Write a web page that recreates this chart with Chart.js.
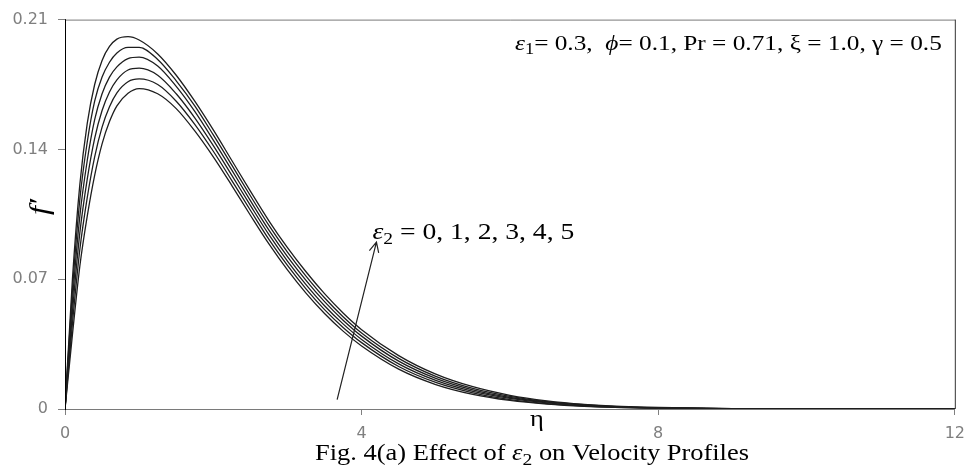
<!DOCTYPE html>
<html lang="en">
<head>
<meta charset="UTF-8" />
<title>Fig. 4(a) Effect of ε2 on Velocity Profiles</title>
<script src="https://cdn.jsdelivr.net/npm/chart.js@4.4.1/dist/chart.umd.min.js"></script>
<style>
  body{margin:0;background:#fff;}
  #wrap{width:974px;height:466px;}
</style>
</head>
<body>
<div id="wrap"><canvas id="chart" width="974" height="466"></canvas></div>
<script>
// similarity variable
const eta = [0, 0.1, 0.2, 0.3, 0.4, 0.5, 0.6, 0.7, 0.85, 1.0, 1.25, 1.5, 1.75, 2.0, 2.25, 2.5, 2.75,
             3.0, 3.25, 3.5, 3.75, 4.0, 4.5, 5.0, 5.5, 6.0, 6.5, 7.0, 7.5, 8.0, 9.0, 10.0, 11.0, 12.0];

// f' profiles, one per epsilon_2 value
const eps2 = [0, 1, 2, 3, 4, 5];
const fpE0 = [0, 0.040, 0.077, 0.104, 0.126, 0.143, 0.155, 0.1635, 0.1703, 0.1728, 0.1700, 0.1620, 0.1500,
              0.1360, 0.1205, 0.1045, 0.0890, 0.0750, 0.0625, 0.0515, 0.0420, 0.0340, 0.0215, 0.0132,
              0.0079, 0.0046, 0.0026, 0.0014, 0.0008, 0.0004, 0.0001, 0, 0, 0];
const fpE1 = [0, 0.046, 0.086, 0.114, 0.136, 0.152, 0.163, 0.1705, 0.1765, 0.1780, 0.1750, 0.1660, 0.1535,
              0.1390, 0.1232, 0.1072, 0.0915, 0.0774, 0.0648, 0.0536, 0.0440, 0.0358, 0.0229, 0.0143,
              0.0087, 0.0051, 0.0029, 0.0016, 0.0009, 0.0005, 0.0001, 0, 0, 0];
const fpE2 = [0, 0.052, 0.095, 0.124, 0.146, 0.161, 0.171, 0.1775, 0.1828, 0.1838, 0.1800, 0.1700, 0.1570,
              0.1420, 0.1260, 0.1098, 0.0940, 0.0798, 0.0671, 0.0557, 0.0459, 0.0375, 0.0243, 0.0154,
              0.0095, 0.0057, 0.0033, 0.0018, 0.0010, 0.0005, 0.0001, 0, 0, 0];
const fpE3 = [0, 0.058, 0.104, 0.134, 0.156, 0.170, 0.179, 0.1845, 0.1890, 0.1898, 0.1850, 0.1740, 0.1605,
              0.1450, 0.1288, 0.1124, 0.0965, 0.0822, 0.0694, 0.0579, 0.0479, 0.0393, 0.0258, 0.0165,
              0.0103, 0.0062, 0.0037, 0.0021, 0.0011, 0.0006, 0.0002, 0, 0, 0];
const fpE4 = [0, 0.064, 0.113, 0.144, 0.166, 0.179, 0.187, 0.1920, 0.1950, 0.1950, 0.1885, 0.1770, 0.1635,
              0.1478, 0.1315, 0.1150, 0.0990, 0.0846, 0.0717, 0.0600, 0.0498, 0.0410, 0.0273, 0.0176,
              0.0111, 0.0068, 0.0040, 0.0023, 0.0012, 0.0007, 0.0002, 0, 0, 0];
const fpE5 = [0, 0.070, 0.121, 0.154, 0.175, 0.188, 0.1955, 0.1995, 0.2008, 0.1990, 0.1915, 0.1800, 0.1660,
              0.1505, 0.1340, 0.1175, 0.1015, 0.0870, 0.0740, 0.0622, 0.0518, 0.0428, 0.0288, 0.0188,
              0.0120, 0.0074, 0.0044, 0.0025, 0.0014, 0.0008, 0.0002, 0.0001, 0, 0];
const profiles = [fpE0, fpE1, fpE2, fpE3, fpE4, fpE5];

const xTicks = [0, 4, 8, 12];
const yTicks = [0, 0.07, 0.14, 0.21];

const SERIF = '"Liberation Serif", "Times New Roman", serif';
const TICK_FONT = {family: '"DejaVu Sans", sans-serif', size: 16};
const STRETCH = 1.15;   // the figure's lettering is set a little wide

// draw a run of [text, style] pieces; style '' | 'i' | 'sub'
function richText(ctx, parts, x, y, size, align){
  const fontOf = s => (s === 'i' ? 'italic ' : '') + Math.round(s === 'sub' ? size * 0.72 : size) + 'px ' + SERIF;
  let w = 0;
  parts.forEach(p => { ctx.font = fontOf(p[1]); w += ctx.measureText(p[0]).width; });
  const start = align === 'right' ? x - w * STRETCH : align === 'center' ? x - w * STRETCH / 2 : x;
  ctx.save();
  ctx.translate(start, y);
  ctx.scale(STRETCH, 1);
  let cx = 0;
  parts.forEach(p => {
    ctx.font = fontOf(p[1]);
    ctx.fillText(p[0], cx, p[1] === 'sub' ? size * 0.2 : 0);
    cx += ctx.measureText(p[0]).width;
  });
  ctx.restore();
  return w * STRETCH;
}

const decorations = {
  id: 'decorations',
  afterDraw(chart){
    const {ctx, chartArea: a, scales: {x, y}} = chart;
    ctx.save();

    // frame: top and right edges, then the darker left axis
    ctx.lineWidth = 1;
    ctx.strokeStyle = '#7a7a7a';
    ctx.beginPath();
    ctx.moveTo(a.left, a.top + 0.5); ctx.lineTo(a.right + 0.5, a.top + 0.5);
    ctx.stroke();
    ctx.strokeStyle = '#333';
    ctx.beginPath();
    ctx.moveTo(a.right + 0.5, a.top); ctx.lineTo(a.right + 0.5, a.bottom);
    ctx.stroke();
    ctx.strokeStyle = '#000';
    ctx.beginPath();
    ctx.moveTo(a.left + 0.5, a.top); ctx.lineTo(a.left + 0.5, a.bottom);
    ctx.stroke();

    ctx.fillStyle = '#000';
    ctx.textBaseline = 'alphabetic';

    // parameter note, top right
    richText(ctx, [['ε', 'i'], ['1', 'sub'], ['= 0.3,  ', ''], ['ϕ', 'i'], ['= 0.1, Pr = 0.71, ξ = 1.0, γ = 0.5', '']],
             a.right - 13, a.top + 30, 22, 'right');

    // arrow across the family of curves
    const x0 = x.getPixelForValue(3.67), y0 = y.getPixelForValue(0.005);
    const x1 = x.getPixelForValue(4.2),  y1 = y.getPixelForValue(0.09);
    const ang = Math.atan2(y1 - y0, x1 - x0);
    ctx.strokeStyle = '#222';
    ctx.lineWidth = 1.2;
    ctx.beginPath();
    ctx.moveTo(x0, y0); ctx.lineTo(x1, y1);
    ctx.moveTo(x1 - 11 * Math.cos(ang - 0.45), y1 - 11 * Math.sin(ang - 0.45));
    ctx.lineTo(x1, y1);
    ctx.lineTo(x1 - 11 * Math.cos(ang + 0.45), y1 - 11 * Math.sin(ang + 0.45));
    ctx.stroke();

    richText(ctx, [['ε', 'i'], ['2', 'sub'], [' = ' + eps2.join(', '), '']], x1 - 4, y1 - 3, 24, 'left');

    // axis titles
    richText(ctx, [['η', '']], 537, 426, 23, 'center');
    ctx.save();
    ctx.translate(48, 207);
    ctx.rotate(-Math.PI / 2);
    richText(ctx, [['f′', 'i']], 0, 0, 28, 'center');
    ctx.restore();

    // caption
    richText(ctx, [['Fig. 4(a) Effect of ', ''], ['ε', 'i'], ['2', 'sub'], [' on Velocity Profiles', '']],
             532, 460, 23, 'center');

    ctx.restore();
  }
};

const datasets = profiles.map((p, i) => ({
  label: 'ε2 = ' + eps2[i],
  data: eta.map((v, j) => ({x: v, y: p[j]})),
  borderColor: '#1e1e1e',
  borderWidth: 1.3,
  pointRadius: 0,
  fill: false,
  cubicInterpolationMode: 'monotone'
}));

new Chart(document.getElementById('chart'), {
  type: 'line',
  data: {datasets},
  plugins: [decorations],
  options: {
    responsive: false,
    animation: false,
    layout: {padding: {top: 16, right: 11, left: 0, bottom: 0}},
    plugins: {legend: {display: false}, tooltip: {enabled: false}},
    scales: {
      x: {
        type: 'linear', min: 0, max: 12,
        afterBuildTicks: s => { s.ticks = xTicks.map(v => ({value: v})); },
        afterFit: s => { s.height = 57; },
        ticks: {color: '#7f7f7f', font: TICK_FONT, padding: 9, maxRotation: 0},
        grid: {drawOnChartArea: false, color: '#808080', tickLength: 6},
        border: {color: '#7a7a7a'}
      },
      y: {
        type: 'linear', min: 0, max: 0.21,
        afterBuildTicks: s => { s.ticks = yTicks.map(v => ({value: v})); },
        afterFit: s => { s.width = 65; },
        ticks: {color: '#7f7f7f', font: TICK_FONT, padding: 10,
                callback: v => v === 0 ? '0' : v.toFixed(2)},
        grid: {drawOnChartArea: false, color: '#808080', tickLength: 7},
        border: {color: '#000'}
      }
    }
  }
});
</script>
</body>
</html>
